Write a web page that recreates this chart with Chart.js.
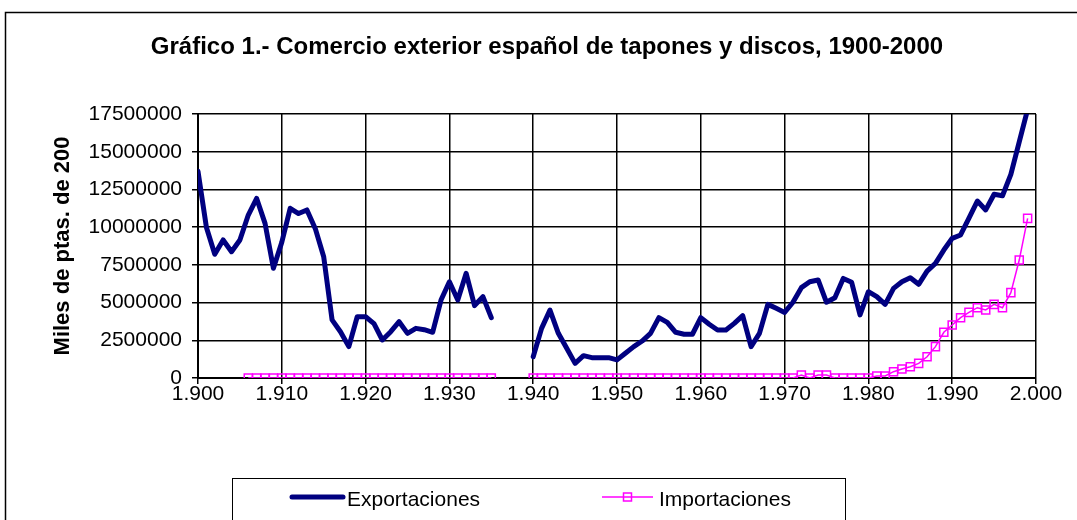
<!DOCTYPE html>
<html>
<head>
<meta charset="utf-8">
<script src="https://cdn.jsdelivr.net/npm/chart.js@4.4.1/dist/chart.umd.min.js"></script>
<style>
  html, body { margin: 0; padding: 0; background: #fff; overflow: hidden; }
  #chartContainer { width: 1077px; height: 540px; position: relative; }
</style>
</head>
<body>
<div id="chartContainer"><canvas id="tradeChart"></canvas></div>
<script>
const chartTitle = 'Gráfico 1.- Comercio exterior español de tapones y discos, 1900-2000';
const yAxisTitle = 'Miles de ptas. de 200';
const seriesNames = ['Exportaciones', 'Importaciones'];

const years = [
    1900, 1901, 1902, 1903, 1904, 1905, 1906, 1907, 1908, 1909,
    1910, 1911, 1912, 1913, 1914, 1915, 1916, 1917, 1918, 1919,
    1920, 1921, 1922, 1923, 1924, 1925, 1926, 1927, 1928, 1929,
    1930, 1931, 1932, 1933, 1934, 1935, 1936, 1937, 1938, 1939,
    1940, 1941, 1942, 1943, 1944, 1945, 1946, 1947, 1948, 1949,
    1950, 1951, 1952, 1953, 1954, 1955, 1956, 1957, 1958, 1959,
    1960, 1961, 1962, 1963, 1964, 1965, 1966, 1967, 1968, 1969,
    1970, 1971, 1972, 1973, 1974, 1975, 1976, 1977, 1978, 1979,
    1980, 1981, 1982, 1983, 1984, 1985, 1986, 1987, 1988, 1989,
    1990, 1991, 1992, 1993, 1994, 1995, 1996, 1997, 1998, 1999
];

// miles de pesetas; null = sin dato (1936-1939)
const exportaciones = [
    13700000, 10000000, 8200000, 9150000, 8370000, 9150000, 10800000, 11900000, 10250000, 7270000,
    9000000, 11250000, 10900000, 11140000, 9900000, 8040000, 3850000, 3070000, 2080000, 4060000,
    4060000, 3600000, 2520000, 3070000, 3730000, 2960000, 3290000, 3200000, 3030000, 5170000,
    6380000, 5170000, 6940000, 4800000, 5390000, 4000000, null, null, null, null,
    1410000, 3290000, 4500000, 2960000, 1970000, 970000, 1480000, 1350000, 1350000, 1350000,
    1200000, 1640000, 2080000, 2450000, 2960000, 4000000, 3690000, 3030000, 2900000, 2900000,
    4000000, 3560000, 3180000, 3180000, 3620000, 4130000, 2080000, 2960000, 4880000, 4620000,
    4350000, 5020000, 5990000, 6380000, 6500000, 5020000, 5320000, 6600000, 6340000, 4180000,
    5720000, 5390000, 4880000, 5940000, 6380000, 6650000, 6210000, 7090000, 7600000, 8480000,
    9260000, 9480000, 10590000, 11730000, 11140000, 12180000, 12080000, 13500000, 15660000, 17800000
];

const importaciones = [
    null, null, null, null, null, null, 0, 0, 0, 0,
    0, 0, 0, 0, 0, 0, 0, 0, 0, 0,
    0, 0, 0, 0, 0, 0, 0, 0, 0, 0,
    0, 0, 0, 0, 0, 0, null, null, null, null,
    0, 0, 0, 0, 0, 0, 0, 0, 0, 0,
    0, 0, 0, 0, 0, 0, 0, 0, 0, 0,
    0, 0, 0, 0, 0, 0, 0, 0, 0, 0,
    0, 0, 200000, 0, 200000, 200000, 0, 0, 0, 0,
    0, 130000, 130000, 420000, 600000, 750000, 970000, 1410000, 2080000, 3030000,
    3510000, 4000000, 4350000, 4660000, 4510000, 4880000, 4660000, 5660000, 7820000, 10580000
];

const FONT = '"Liberation Sans", Arial, sans-serif';
const EXPORT_COLOR = '#000080';
const IMPORT_COLOR = '#FF00FF';

function yearLabel(v) {
    // 1900 -> "1.900"
    return Math.floor(v / 1000) + '.' + String(v % 1000).padStart(3, '0');
}

// frame, title and legend box like the spreadsheet chart
const excelFrame = {
    id: 'excelFrame',
    beforeDraw(chart) {
        const ctx = chart.ctx;
        ctx.save();
        ctx.fillStyle = '#fff';
        ctx.fillRect(0, 0, chart.width, chart.height);
        ctx.strokeStyle = '#000';
        ctx.lineWidth = 1.5;
        ctx.strokeRect(5.5, 12.5, 1100, 600);
        ctx.fillStyle = '#000';
        ctx.font = 'bold 24px ' + FONT;
        ctx.textAlign = 'center';
        ctx.textBaseline = 'middle';
        ctx.fillText(chartTitle, 547, 47);
        ctx.restore();
    },
    afterDraw(chart) {
        const ctx = chart.ctx;
        ctx.save();
        ctx.strokeStyle = '#000';
        ctx.lineWidth = 1;
        ctx.strokeRect(232.5, 478.5, 613, 100);

        ctx.font = '21px ' + FONT;
        ctx.fillStyle = '#000';
        ctx.textBaseline = 'middle';
        ctx.textAlign = 'left';

        // Exportaciones
        ctx.strokeStyle = EXPORT_COLOR;
        ctx.lineWidth = 5;
        ctx.lineCap = 'round';
        ctx.beginPath();
        ctx.moveTo(292, 497);
        ctx.lineTo(343, 497);
        ctx.stroke();
        ctx.fillText(chart.data.datasets[0].label, 347, 500);

        // Importaciones
        ctx.strokeStyle = IMPORT_COLOR;
        ctx.lineWidth = 1.5;
        ctx.lineCap = 'butt';
        ctx.beginPath();
        ctx.moveTo(602, 497);
        ctx.lineTo(653, 497);
        ctx.stroke();
        ctx.strokeRect(623.5, 493, 8, 8);
        ctx.fillText(chart.data.datasets[1].label, 659, 500);
        ctx.restore();
    }
};

const canvas = document.getElementById('tradeChart');
const ctx = canvas.getContext('2d');

const config = {
    type: 'line',
    data: {
        labels: years,
        datasets: [
            {
                label: seriesNames[0],
                data: exportaciones,
                borderColor: EXPORT_COLOR,
                borderWidth: 5,
                borderJoinStyle: 'round',
                borderCapStyle: 'round',
                pointRadius: 0,
                tension: 0,
                spanGaps: false
            },
            {
                label: seriesNames[1],
                data: importaciones,
                borderColor: IMPORT_COLOR,
                borderWidth: 1.5,
                pointStyle: 'rect',
                pointRadius: 5.7,
                pointBorderWidth: 1.5,
                pointBorderColor: IMPORT_COLOR,
                pointBackgroundColor: 'rgba(0,0,0,0)',
                tension: 0,
                spanGaps: false
            }
        ]
    },
    options: {
        responsive: true,
        maintainAspectRatio: false,
        animation: false,
        layout: { padding: { top: 114, right: 41, bottom: 122, left: 0 } },
        plugins: {
            legend: { display: false },
            title: { display: false },
            tooltip: { enabled: false }
        },
        scales: {
            x: {
                type: 'linear',
                min: 1900,
                max: 2000,
                ticks: {
                    stepSize: 10,
                    color: '#000',
                    font: { family: FONT, size: 21 },
                    padding: -2,
                    maxRotation: 0,
                    callback: v => yearLabel(v)
                },
                grid: { color: '#000', lineWidth: 1.5, tickLength: 6 },
                border: { color: '#000', width: 2 },
                afterFit: s => { s.height = 40; }
            },
            y: {
                min: 0,
                max: 17500000,
                ticks: {
                    stepSize: 2500000,
                    color: '#000',
                    font: { family: FONT, size: 21 },
                    padding: 10,
                    callback: v => String(v)
                },
                grid: { color: '#000', lineWidth: 1.5, tickLength: 6 },
                border: { color: '#000', width: 2 },
                title: {
                    display: true,
                    text: yAxisTitle,
                    color: '#000',
                    font: { family: FONT, size: 22, weight: 'bold' },
                    padding: { top: 50, bottom: 0 }
                },
                afterFit: s => { s.width = 198; }
            }
        }
    },
    plugins: [excelFrame]
};

const tradeChart = new Chart(ctx, config);
</script>
</body>
</html>
